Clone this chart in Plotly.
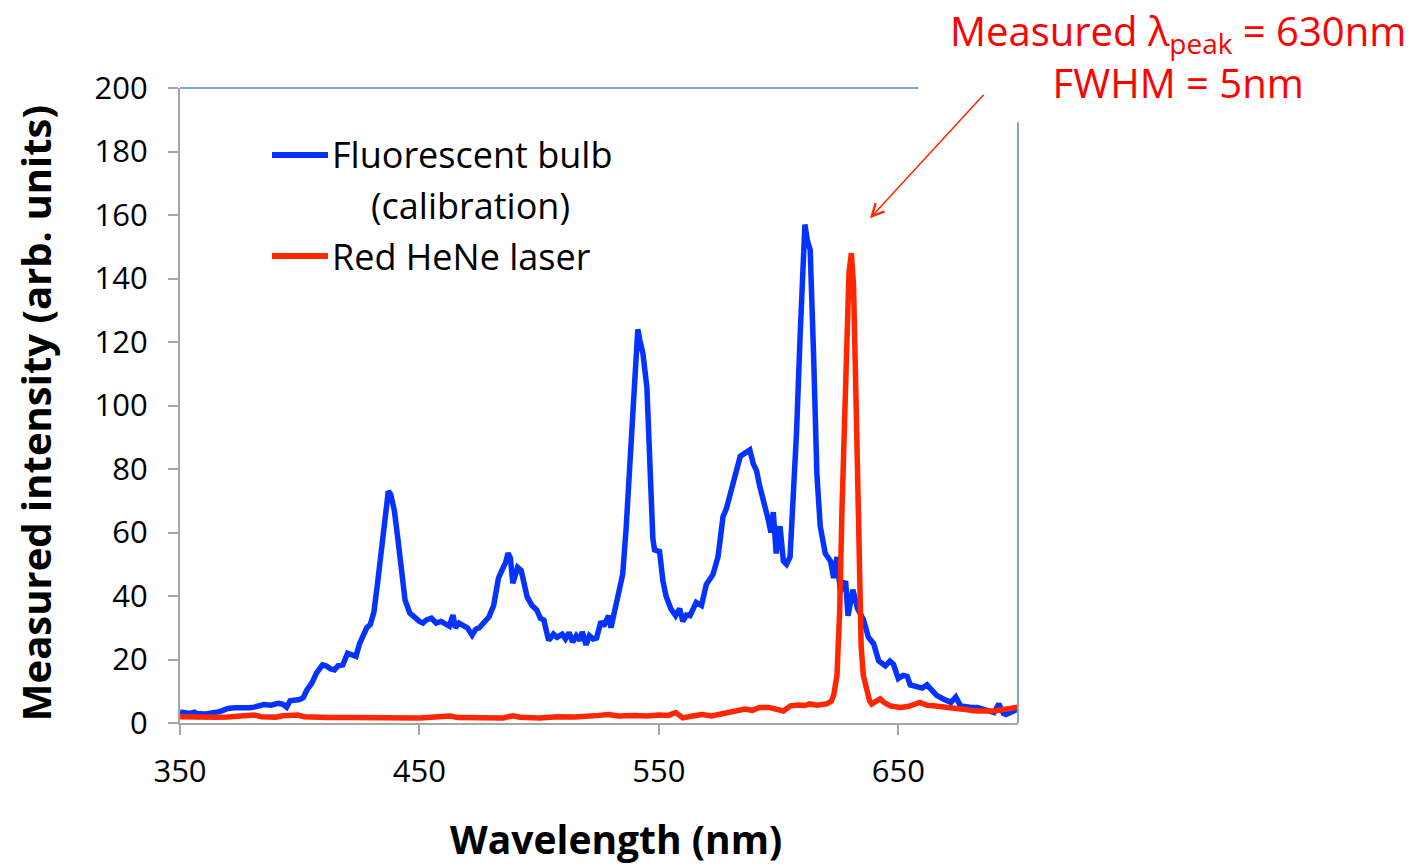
import plotly.graph_objects as go

# ---------------- data ----------------
bulb_nm = [350, 352, 354, 356, 357, 360, 363, 366, 368, 370, 373, 376, 379, 381, 383, 385, 388, 391, 393, 394.5,
           396, 398, 400, 401.5, 403, 405, 407, 409.5, 411, 413, 414.5, 416, 418, 420, 422, 423.5, 425, 426.5, 428, 429.5,
           431, 432.5, 434, 435.5, 437, 438, 439.5, 441, 442, 443, 444, 446, 448, 450, 451.5, 453, 455, 457, 459, 461,
           462.5, 464, 465, 466.5, 468, 470, 472, 473.5, 475, 477, 479, 481, 482, 483, 485, 486, 487, 488, 489, 490,
           491, 492.5, 494, 495, 497, 499, 500.5, 502, 503, 504, 506, 507.5, 509.6, 511, 512.5, 514, 515.5, 517, 518, 519.6,
           521, 522.5, 524, 525.8, 527, 529, 530, 531.5, 532.8, 534.9, 536.3, 538, 539.4, 540.5, 541.2, 542.2, 543.3, 545,
           546.4, 547.5, 548.2, 550.3, 551.7, 553, 555, 557, 558.7, 560, 561.5, 563, 565.6, 567.8, 569.8, 572.6, 574.7, 576.8,
           578.2, 580.3, 581.8, 584, 586, 588, 589.4, 590.8, 592, 593.6, 595.7, 596.8, 597.8, 599, 600.6, 602, 603.3, 604.8,
           606, 607.5, 609, 611, 612, 613.2, 614.6, 616, 617.4, 619.5, 621.7, 623, 624.4, 625.8, 628, 629, 631, 633,
           635.4, 637.5, 639.7, 641.8, 644.6, 646.5, 648, 650, 652, 653.7, 655, 658, 660, 662, 664, 666, 669, 672,
           674, 676, 680, 683, 687, 690, 692, 694, 695, 698, 700]
bulb_int = [3.5, 3.2, 3.0, 3.4, 3.0, 2.8, 3.0, 3.5, 4.0, 4.6, 4.8, 4.7, 4.8, 5.0, 5.6, 5.8, 5.6, 6.2, 5.9, 5.0,
            7.0, 7.2, 7.4, 8.0, 10.4, 12.5, 15.7, 18.3, 18.0, 17.0, 16.7, 18.0, 18.3, 22.0, 21.5, 21.0, 25.0, 28.0, 30.0, 31.0,
            35.0, 44.0, 54.5, 65.0, 73.0, 72.0, 67.0, 58.0, 51.0, 44.0, 38.7, 34.6, 33.0, 32.0, 31.5, 32.5, 33.0, 31.5, 32.0, 31.0,
            30.5, 34.0, 30.0, 31.5, 31.0, 30.0, 27.7, 29.5, 30.0, 31.5, 33.4, 37.0, 41.0, 45.6, 49.0, 50.5, 53.5, 52.0, 44.0, 47.0,
            49.0, 48.0, 43.0, 39.7, 37.0, 35.6, 33.0, 32.4, 29.0, 26.0, 28.0, 27.0, 28.0, 26.5, 28.5, 25.5, 27.5, 26.0, 28.7, 24.6,
            27.5, 26.5, 26.8, 32.0, 30.5, 33.8, 30.0, 35.0, 40.0, 46.8, 61.0, 82.8, 105.7, 120.0, 124.0, 120.0, 116.6, 105.7,
            73.0, 58.0, 54.5, 54.0, 44.7, 40.0, 36.0, 33.8, 36.0, 32.0, 34.0, 33.8, 38.0, 37.0, 43.6, 46.8, 52.3, 65.0,
            67.5, 73.0, 78.4, 84.0, 85.0, 86.0, 81.7, 79.5, 75.0, 70.8, 64.0, 60.0, 66.4, 53.4, 62.0, 51.0, 50.0, 52.3,
            69.7, 91.5, 122.0, 157.0, 152.0, 149.0, 116.6, 78.4, 62.0, 53.4, 51.0, 45.7, 52.3, 41.4, 44.7, 33.8, 42.0, 36.0,
            32.7, 27.0, 25.0, 19.6, 18.0, 19.5, 18.5, 14.0, 15.0, 14.7, 12.0, 11.4, 11.0, 12.0, 10.5, 8.7, 7.5, 6.5,
            8.2, 5.4, 5.0, 4.9, 4.0, 3.3, 6.0, 3.0, 2.7, 3.5, 4.4]

laser_nm = [350, 355, 360, 365, 370, 375, 378, 381, 384, 390, 393, 396, 399, 402, 406, 412, 420, 430, 440, 450,
            455, 460, 463, 466, 475, 485, 489, 492, 500, 508, 515, 520, 525, 529, 533, 540, 545, 550, 554, 557,
            560, 564, 568, 572, 575, 578, 582, 586, 589, 592, 596, 599, 602, 605, 608, 611, 613, 616, 620, 622,
            623, 624.4, 625.5, 626.5, 628, 629.4, 630.4, 631.3, 632.4, 633.4, 634.5, 635.4, 636.8, 638, 638.9, 640.5,
            642.4, 644, 646.6, 650.8, 654, 659, 662, 664.7, 670, 676, 680, 683, 690, 694, 697, 700]
laser_int = [2.0, 1.8, 1.7, 1.8, 1.9, 2.0, 2.4, 2.5, 2.0, 1.8, 2.3, 2.6, 2.5, 2.0, 1.8, 1.7, 1.7, 1.6, 1.7, 1.6,
             1.8, 2.3, 2.2, 1.7, 1.6, 1.6, 2.3, 1.8, 1.6, 2.0, 1.9, 2.0, 2.4, 2.7, 2.2, 2.4, 2.2, 2.5, 2.4, 3.3,
             1.6, 2.2, 2.7, 2.2, 2.6, 3.3, 3.6, 4.4, 4.0, 4.9, 4.9, 4.4, 3.8, 5.4, 5.7, 5.5, 6.0, 5.6, 6.0, 6.8,
             8.7, 15.0, 35.0, 67.5, 111.0, 141.6, 148.0, 138.0, 100.0, 56.6, 24.0, 15.0, 9.8, 7.0, 6.0, 6.8,
             7.6, 6.5, 5.4, 4.9, 5.2, 6.5, 5.6, 5.4, 5.0, 4.4, 4.2, 3.8, 3.8, 4.2, 4.4, 5.0]

series_names = ["Fluorescent bulb", "Red HeNe laser"]
x_ticks = [350, 450, 550, 650]
y_ticks = [0, 20, 40, 60, 80, 100, 120, 140, 160, 180, 200]

BLUE = "#0433FF"
RED = "#FF2600"
FONT = "Open Sans"

fig = go.Figure()
fig.add_trace(go.Scatter(x=bulb_nm, y=bulb_int, mode="lines", name=series_names[0],
                         line=dict(color=BLUE, width=5.5), showlegend=False))
fig.add_trace(go.Scatter(x=laser_nm, y=laser_int, mode="lines", name=series_names[1],
                         line=dict(color=RED, width=5.5), showlegend=False))

fig.update_layout(
    width=1427, height=867,
    margin=dict(l=172, r=417, t=80, b=152),
    paper_bgcolor="white", plot_bgcolor="white",
    font=dict(family=FONT, color="black"),
    showlegend=False,
    xaxis=dict(range=[350, 700], tickvals=x_ticks, ticks="outside", ticklen=10,
               tickcolor="#a6a6a6", tickwidth=2, showline=True, linecolor="#a6a6a6", linewidth=2,
               showgrid=False, zeroline=False, tickfont=dict(size=31, family=FONT),
               ticklabelstandoff=10),
    yaxis=dict(range=[0, 200], tickvals=y_ticks, ticks="outside", ticklen=10,
               tickcolor="#a6a6a6", tickwidth=2, showline=True, linecolor="#a6a6a6", linewidth=2,
               showgrid=False, zeroline=False, tickfont=dict(size=31, family=FONT),
               ticklabelstandoff=14),
)

# axis titles (placed as in the reference, slightly off-centre)
fig.add_annotation(xref="paper", yref="paper", x=0.520, y=-0.226, xanchor="center", yanchor="bottom",
                   text="<b>Wavelength (nm)</b>", showarrow=False, font=dict(size=39, family=FONT, color="black"))
fig.add_annotation(xref="paper", yref="paper", x=-0.173, y=0.488, xanchor="center", yanchor="middle",
                   textangle=-90, text="<b>Measured intensity (arb. units)</b>", showarrow=False,
                   font=dict(size=40, family=FONT, color="black"))

# partial frame (top and right edges, interrupted by the annotation box)
fig.add_shape(type="line", xref="paper", yref="paper", x0=0, x1=0.881, y0=1, y1=1,
              line=dict(color="#7EA6D8", width=2))
fig.add_shape(type="line", xref="paper", yref="paper", x0=1, x1=1, y0=0, y1=0.946,
              line=dict(color="#7EA6D8", width=2))

# legend drawn inside the plot area
fig.add_shape(type="line", xref="paper", yref="paper", x0=0.1098, x1=0.1766, y0=0.8945, y1=0.8945,
              line=dict(color=BLUE, width=6))
fig.add_shape(type="line", xref="paper", yref="paper", x0=0.1098, x1=0.1766, y0=0.7354, y1=0.7354,
              line=dict(color=RED, width=6))
fig.add_annotation(xref="paper", yref="paper", x=0.1790, y=0.8945, xanchor="left", yanchor="middle",
                   text=series_names[0], showarrow=False, font=dict(size=36, family=FONT, color="black"))
fig.add_annotation(xref="paper", yref="paper", x=0.2255, y=0.8142, xanchor="left", yanchor="middle",
                   text="(calibration)", showarrow=False, font=dict(size=36, family=FONT, color="black"))
fig.add_annotation(xref="paper", yref="paper", x=0.1790, y=0.7354, xanchor="left", yanchor="middle",
                   text=series_names[1], showarrow=False, font=dict(size=36, family=FONT, color="black"))

# annotation text (two centred lines)
fig.add_annotation(xref="paper", yref="paper", x=1.191, y=1.049, xanchor="center", yanchor="middle",
                   align="center",
                   text="Measured λ<sub>peak</sub> = 630nm<br>FWHM = 5nm", showarrow=False,
                   font=dict(size=40, color="#FF0000", family=FONT))
# arrow
fig.add_annotation(x=638.2, y=159, xref="x", yref="y", ax=115, ay=-125, text="",
                   showarrow=True, arrowhead=5, arrowsize=1.6, arrowwidth=1.5, arrowcolor=RED)

fig.write_html("out.html")
